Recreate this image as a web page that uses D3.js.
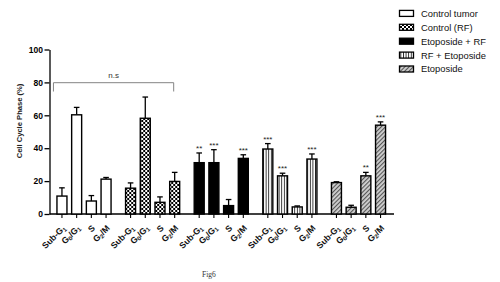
<!DOCTYPE html>
<html><head><meta charset="utf-8">
<script src="https://cdn.jsdelivr.net/npm/d3@7"></script>
<style>
body{margin:0;background:#fff;}
svg{display:block;font-family:"Liberation Sans",Arial,sans-serif;}
</style></head><body>
<svg id="c" width="500" height="282"></svg>
<script>
const groups = ["Control tumor","Control (RF)","Etoposide + RF","RF + Etoposide","Etoposide"];
const phases = ["SubG1","G0G1","S","G2M"];
const means = [
  [10.9, 60.3, 7.9, 21.2],
  [15.7, 58.2, 7.1, 19.8],
  [31.2, 31.2, 5.1, 33.8],
  [39.5, 23.2, 4.3, 33.4],
  [19.1, 4.1, 23.2, 54.0]
];
const errs = [
  [5.0, 4.5, 3.3, 1.0],
  [3.2, 12.9, 3.3, 5.5],
  [5.9, 7.9, 3.7, 2.2],
  [3.3, 1.6, 0.6, 3.1],
  [0.5, 1.2, 2.1, 2.0]
];
const stars = [
  ["","","",""],
  ["","","",""],
  ["**","***","","***"],
  ["***","***","","***"],
  ["","","**","***"]
];
const yTicks = [0,20,40,60,80,100];

const svg = d3.select("#c");
const defs = svg.append("defs");
const pc = defs.append("pattern").attr("id","pChk").attr("patternUnits","userSpaceOnUse").attr("width",4).attr("height",4);
pc.append("rect").attr("width",4).attr("height",4).attr("fill","#000");
pc.append("rect").attr("x",0).attr("y",0).attr("width",2).attr("height",2).attr("fill","#fff");
pc.append("rect").attr("x",2).attr("y",2).attr("width",2).attr("height",2).attr("fill","#fff");
const pv = defs.append("pattern").attr("id","pVert").attr("patternUnits","userSpaceOnUse").attr("width",2.6).attr("height",4);
pv.append("rect").attr("width",2.6).attr("height",4).attr("fill","#fff");
pv.append("rect").attr("x",0).attr("width",0.9).attr("height",4).attr("fill","#222");
const pd = defs.append("pattern").attr("id","pDiag").attr("patternUnits","userSpaceOnUse").attr("width",3).attr("height",3).attr("patternTransform","rotate(45)");
pd.append("rect").attr("width",3).attr("height",3).attr("fill","#d0d0d0");
pd.append("rect").attr("width",1.1).attr("height",3).attr("fill","#555");

const fills = ["#fff","url(#pChk)","#000","url(#pVert)","url(#pDiag)"];

const y = d3.scaleLinear().domain([0,100]).range([214,49.5]);
const xg = d3.scaleBand().domain(d3.range(groups.length)).range([54.6,387.9]).paddingInner(0.143).paddingOuter(0);
const xb = d3.scaleBand().domain(phases).range([0,xg.bandwidth()]).paddingInner(0.32).paddingOuter(0.16);

const yAxis = d3.axisLeft(y).tickValues(yTicks).tickSize(5).tickPadding(1.5).tickSizeOuter(0);
const ya = svg.append("g").attr("transform","translate(49.5,0)").call(yAxis);
ya.select(".domain").attr("stroke","#000").attr("stroke-width",1.3);
ya.selectAll(".tick line").attr("stroke","#000").attr("stroke-width",1.3);
ya.selectAll(".tick text").attr("font-size",8.5).attr("font-weight","bold").attr("fill","#000")
  .attr("font-family","Liberation Sans, Arial, sans-serif");

svg.append("line").attr("x1",49.5).attr("x2",394).attr("y1",y(0)).attr("y2",y(0)).attr("stroke","#000").attr("stroke-width",1.3);

svg.append("text").attr("transform","translate(22,121) rotate(-90)").attr("text-anchor","middle")
  .attr("font-size",7.6).attr("font-weight","bold").attr("fill","#222").text("Cell Cycle Phase (%)");

const labelParts = {
  SubG1: [["Sub-G",false],["1",true]],
  G0G1: [["G",false],["0",true],["/G",false],["1",true]],
  S: [["S",false]],
  G2M: [["G",false],["2",true],["/M",false]]
};

groups.forEach((g,gi)=>{
  const gEl = svg.append("g").attr("transform",`translate(${xg(gi)},0)`);
  phases.forEach((p,pi)=>{
    const x0 = xb(p), w = xb.bandwidth(), cx = x0 + w/2;
    const v = means[gi][pi], e = errs[gi][pi];
    gEl.append("line").attr("x1",cx).attr("x2",cx).attr("y1",y(v)).attr("y2",y(v+e)).attr("stroke","#000").attr("stroke-width",1.3);
    gEl.append("line").attr("x1",cx-2.8).attr("x2",cx+2.8).attr("y1",y(v+e)).attr("y2",y(v+e)).attr("stroke","#000").attr("stroke-width",1.3);
    gEl.append("rect").attr("x",x0).attr("y",y(v)).attr("width",w).attr("height",y(0)-y(v))
      .attr("fill",fills[gi]).attr("stroke","#000").attr("stroke-width",1.4);
    gEl.append("line").attr("x1",cx).attr("x2",cx).attr("y1",y(0)).attr("y2",y(0)+4).attr("stroke","#000").attr("stroke-width",1.1);
    if (stars[gi][pi]) {
      gEl.append("text").attr("x",cx).attr("y",y(v+e)-2).attr("text-anchor","middle")
        .attr("font-size",8).attr("fill","#222").text(stars[gi][pi]);
    }
    const t = gEl.append("text").attr("transform",`translate(${cx+1.5},${y(0)+12}) rotate(-45)`)
      .attr("text-anchor","end").attr("dy","0.45em").attr("font-size",8.6).attr("font-weight","bold").attr("fill","#111");
    labelParts[p].forEach(([s,sub],k)=>{
      const ts = t.append("tspan").text(s);
      if (sub) ts.attr("font-size",6).attr("dy","0.25em");
      else if (k>0) ts.attr("dy","-0.18em");
    });
  });
});

const bx1 = xg(0) + xb("SubG1") - 3.5, bx2 = xg(1) + xb("G2M") + xb.bandwidth() - 6;
svg.append("path").attr("d",`M${bx1},91.5 V82.7 H${bx2} V91.5`).attr("fill","none").attr("stroke","#777").attr("stroke-width",0.9);
svg.append("text").attr("x",(bx1+bx2)/2).attr("y",77.5).attr("text-anchor","middle").attr("font-size",8).attr("fill","#333").text("n.s");

const leg = svg.append("g");
groups.forEach((g,i)=>{
  const ly = 13.4 + i*13.9;
  leg.append("rect").attr("x",399.5).attr("y",ly-3).attr("width",14).attr("height",6)
    .attr("fill",fills[i]).attr("stroke","#000").attr("stroke-width",1.3);
  leg.append("text").attr("x",421).attr("y",ly+3.4).attr("font-size",9.4).attr("fill","#111").text(g);
});

svg.append("text").attr("x",202).attr("y",277).attr("font-family","Liberation Serif, Times New Roman, serif")
  .attr("font-size",7.5).attr("fill","#333").text("Fig6");
</script>
</body></html>
